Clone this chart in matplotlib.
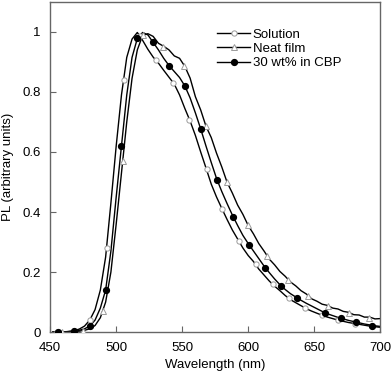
import matplotlib
matplotlib.use("Agg")
import matplotlib.pyplot as plt

plt.rcParams["font.family"] = ["Liberation Sans", "DejaVu Sans"]

# spectra on a 4 nm grid, 452..700 nm
wavelength = list(range(452, 701, 4))

solution = [0.0, 0.0, 0.0, 0.002, 0.005, 0.01, 0.02, 0.04,
            0.075, 0.14, 0.25, 0.43, 0.62, 0.79, 0.915, 0.976,
            0.998, 0.972, 0.942, 0.916, 0.896, 0.872, 0.849, 0.826,
            0.79, 0.745, 0.703, 0.655, 0.6, 0.547, 0.493, 0.45,
            0.412, 0.375, 0.34, 0.31, 0.28, 0.255, 0.235, 0.21,
            0.19, 0.17, 0.153, 0.138, 0.122, 0.108, 0.098, 0.088,
            0.078, 0.07, 0.063, 0.056, 0.05, 0.045, 0.04, 0.036,
            0.032, 0.029, 0.026, 0.023, 0.02, 0.018, 0.016]

neat_film = [0.0, 0.0, 0.0, 0.001, 0.002, 0.003, 0.006, 0.011,
             0.022, 0.048, 0.1, 0.2, 0.36, 0.53, 0.70, 0.845,
             0.94, 0.988, 0.994, 0.985, 0.962, 0.952, 0.94, 0.92,
             0.912, 0.885, 0.846, 0.784, 0.74, 0.686, 0.648, 0.596,
             0.55, 0.499, 0.463, 0.423, 0.392, 0.355, 0.327, 0.295,
             0.27, 0.243, 0.224, 0.202, 0.186, 0.167, 0.154, 0.138,
             0.127, 0.111, 0.103, 0.093, 0.089, 0.08, 0.077, 0.069,
             0.066, 0.058, 0.057, 0.05, 0.05, 0.044, 0.045]

cbp_30 = [0.0, 0.0, 0.001, 0.002, 0.003, 0.006, 0.011, 0.02,
          0.04, 0.08, 0.14, 0.27, 0.45, 0.62, 0.79, 0.915,
          0.978, 0.998, 0.99, 0.965, 0.94, 0.912, 0.888, 0.868,
          0.848, 0.82, 0.78, 0.73, 0.677, 0.62, 0.565, 0.512,
          0.468, 0.428, 0.39, 0.355, 0.322, 0.295, 0.27, 0.245,
          0.22, 0.198, 0.177, 0.158, 0.142, 0.128, 0.117, 0.106,
          0.096, 0.087, 0.078, 0.069, 0.061, 0.055, 0.049, 0.044,
          0.039, 0.035, 0.031, 0.027, 0.024, 0.021, 0.019]

# marker positions
solution_mark_wl = [455.5, 468, 480.5, 492.7, 505.8, 518.3, 530, 543, 555.5, 568.5,
                    580.5, 593, 605.6, 618.5, 630.6, 643, 655.6, 668, 681, 693.5]
solution_mark_pl = [0.0, 0.005, 0.04, 0.28, 0.84, 0.985, 0.908, 0.83, 0.706, 0.543,
                    0.41, 0.303, 0.226, 0.159, 0.112, 0.08, 0.057, 0.04, 0.028, 0.019]

neat_mark_wl = [459, 474.5, 490, 505, 520.3, 535.5, 551.5, 568, 583.6, 600,
                614.5, 630.3, 645.5, 660.6, 676, 691.5]
neat_mark_pl = [0.0, 0.005, 0.07, 0.57, 0.988, 0.951, 0.888, 0.688, 0.5, 0.356,
                0.252, 0.174, 0.12, 0.087, 0.064, 0.048]

cbp_mark_wl = [456, 468, 480, 492, 504, 516, 528, 540, 552, 564,
               576.5, 588.5, 600.8, 613, 625, 637, 658, 670, 682, 694]
cbp_mark_pl = [0.0, 0.003, 0.02, 0.14, 0.62, 0.978, 0.965, 0.888, 0.82, 0.677,
               0.506, 0.385, 0.29, 0.214, 0.154, 0.114, 0.065, 0.048, 0.033, 0.022]

labels = ["Solution", "Neat film", "30 wt% in CBP"]
x_ticks = [450, 500, 550, 600, 650, 700]
y_ticks = [0, 0.2, 0.4, 0.6, 0.8, 1]
y_tick_labels = ["0", "0.2", "0.4", "0.6", "0.8", "1"]

GREY = "#9a9a9a"
SPINE = "#666666"

fig = plt.figure(figsize=(3.92, 3.74), dpi=100)
ax = fig.add_axes([0.128, 0.112, 0.842, 0.883])

l1, = ax.plot(wavelength, solution, color="black", linewidth=1.0)
l2, = ax.plot(wavelength, neat_film, color="black", linewidth=1.0)
l3, = ax.plot(wavelength, cbp_30, color="black", linewidth=1.0)

m1, = ax.plot(solution_mark_wl, solution_mark_pl, linestyle="none", marker="o",
              markersize=3.8, markerfacecolor="white", markeredgecolor=GREY,
              markeredgewidth=0.7, zorder=3)
m2, = ax.plot(neat_mark_wl, neat_mark_pl, linestyle="none", marker="^",
              markersize=3.8, markerfacecolor="white", markeredgecolor=GREY,
              markeredgewidth=0.7, zorder=3)
m3, = ax.plot(cbp_mark_wl, cbp_mark_pl, linestyle="none", marker="o",
              markersize=4.2, markerfacecolor="black", markeredgecolor="black",
              zorder=4)

ax.set_xlim(450, 700)
ax.set_ylim(0, 1.1)
ax.set_xticks(x_ticks)
ax.set_yticks(y_ticks)
ax.set_yticklabels(y_tick_labels)
ax.tick_params(direction="in", length=4, width=0.8, color=SPINE,
               labelsize=9.5, pad=7)
for sp in ax.spines.values():
    sp.set_color(SPINE)
    sp.set_linewidth(1.0)

ax.set_xlabel("Wavelength (nm)", fontsize=9.5, labelpad=4)
ax.set_ylabel("PL (arbitrary units)", fontsize=9.5, labelpad=6)

ax.legend([(l1, m1), (l2, m2), (l3, m3)], labels, loc="upper left",
          bbox_to_anchor=(0.49, 0.935), frameon=False, fontsize=9.5,
          handlelength=2.5, handletextpad=0.2, labelspacing=0.15,
          borderaxespad=0)

fig.savefig("out.png", dpi=100)
